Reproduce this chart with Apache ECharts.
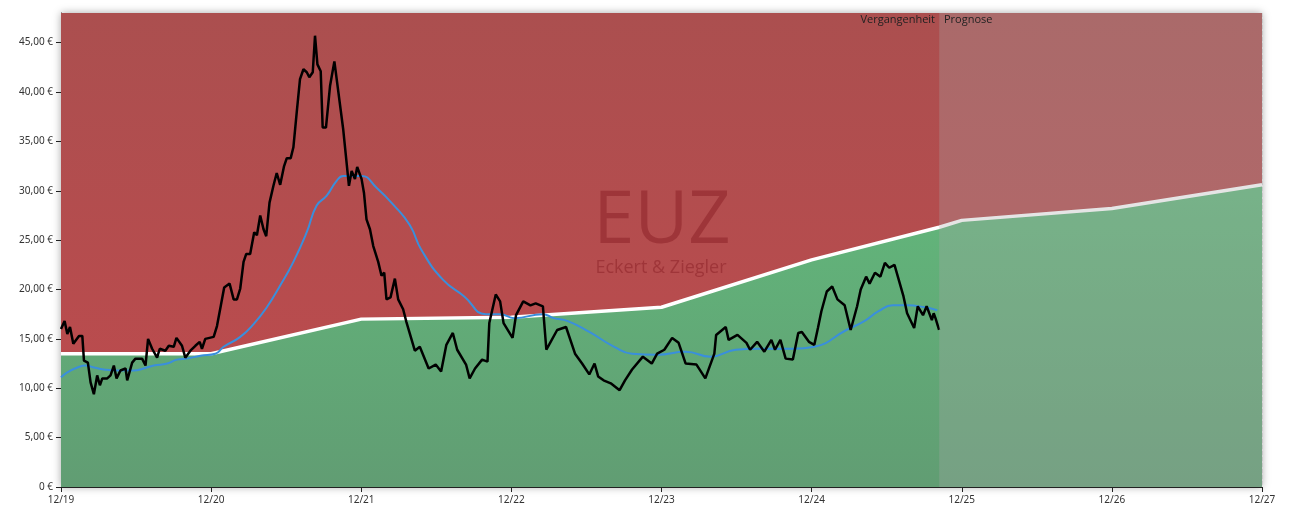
<!DOCTYPE html>
<html><head><meta charset="utf-8">
<script src="https://cdn.jsdelivr.net/npm/echarts@6/dist/echarts.min.js"></script>
<style>html,body{margin:0;padding:0;background:#fff}#c{width:1293px;height:511px}</style>
</head><body><div id="c"></div>
<script>
// x values: years since Dec 2019
const tickLabels = ['12/19','12/20','12/21','12/22','12/23','12/24','12/25','12/26','12/27'];
const priceT = [0,.024,.042,.060,.082,.120,.142,.153,.179,.197,.219,.241,.259,.275,.308,.330,.352,.370,.396,.430,.441,.474,.496,.540,.563,.580,.607,.640,.658,.695,.718,.751,.769,.806,.828,.862,.895,.924,.939,.961,1.017,1.039,1.065,1.087,1.123,1.150,1.172,1.194,1.216,1.234,1.260,1.287,1.305,1.327,1.349,1.367,1.389,1.415,1.437,1.460,1.486,1.504,1.530,1.548,1.570,1.592,1.615,1.637,1.654,1.677,1.692,1.708,1.730,1.743,1.765,1.792,1.821,1.880,1.918,1.936,1.958,1.973,2.002,2.018,2.035,2.058,2.080,2.113,2.135,2.153,2.168,2.195,2.224,2.246,2.279,2.301,2.328,2.357,2.390,
2.449,2.496,2.532,2.567,2.610,2.639,2.698,2.722,2.758,2.805,2.841,2.853,2.896,2.925,2.948,3.008,3.031,3.079,3.127,3.162,3.210,3.233,3.258,3.305,3.364,3.424,3.471,3.519,3.554,3.578,3.614,3.662,3.721,3.757,3.804,3.876,3.935,3.971,4.019,4.071,4.114,4.161,4.233,4.292,4.352,4.364,4.428,4.447,4.506,4.566,4.590,4.637,4.685,4.732,4.756,4.792,4.827,4.875,4.911,4.935,4.982,5.018,5.042,5.065,5.101,5.137,5.172,5.220,5.260,5.303,5.327,5.363,5.386,5.422,5.458,5.488,5.517,5.552,5.612,5.636,5.683,5.707,5.742,5.766,5.801,5.813,5.825,5.849];
const priceV = [16.0,16.8,15.5,16.2,14.5,15.3,15.3,12.8,12.6,10.6,9.4,11.3,10.3,11.0,11.0,11.3,12.3,11.0,11.8,12.0,10.8,12.6,13.0,13.0,12.3,15.0,14.0,13.1,14.0,13.8,14.3,14.2,15.1,14.3,13.1,13.8,14.3,14.7,14.0,15.0,15.2,16.3,18.4,20.2,20.6,19.0,19.0,20.1,22.8,23.6,23.6,25.8,25.5,27.5,26.1,25.4,28.8,30.5,31.8,30.6,32.5,33.3,33.3,34.4,37.9,41.3,42.3,42.0,41.5,42.0,45.7,42.8,42.1,36.4,36.4,40.6,43.1,36.2,30.5,32.0,31.2,32.4,31.2,29.8,27.1,26.1,24.4,22.8,21.4,21.7,19.0,19.2,21.1,19.0,18.0,16.7,15.3,13.8,14.2,
12.0,12.4,11.7,14.4,15.6,13.9,12.4,11.0,12.0,12.9,12.7,16.6,19.5,18.8,16.6,15.1,17.4,18.8,18.4,18.6,18.3,13.9,14.6,15.9,16.2,13.5,12.5,11.4,12.5,11.2,10.8,10.5,9.8,10.8,11.9,13.2,12.5,13.5,13.9,15.1,14.6,12.5,12.4,11.0,13.5,15.4,16.2,14.9,15.4,14.6,13.9,14.7,13.7,14.9,13.9,14.9,13.0,12.9,15.6,15.7,14.7,14.4,16.1,17.8,19.8,20.3,19.0,18.4,15.9,18.3,20.0,21.3,20.6,21.7,21.3,22.7,22.2,22.5,19.3,17.6,16.1,18.3,17.4,18.3,16.9,17.6,17.1,15.9];
const avgT = [0,.042,.109,.164,.219,.286,.374,.485,.551,.618,.707,.773,.840,.928,1.028,1.083,1.194,1.283,1.371,1.460,1.548,1.637,1.703,1.770,1.836,1.880,1.947,2.002,2.102,2.213,2.324,2.401,2.544,2.686,2.829,2.925,3.020,3.210,3.281,3.376,3.519,3.685,3.804,3.971,4.161,4.328,4.494,4.637,4.875,5.018,5.232,5.351,5.446,5.541,5.636,5.754,5.837];
const avgV = [11.1,11.6,12.1,12.3,12.1,11.9,11.8,11.8,12.0,12.3,12.5,12.9,13.0,13.3,13.5,14.2,15.2,16.5,18.2,20.4,22.8,25.8,28.5,29.5,31.0,31.5,31.5,31.5,30.3,28.6,26.5,24.0,21.0,19.3,17.5,17.5,17.1,17.5,17.1,16.8,15.7,14.2,13.5,13.4,13.7,13.2,13.9,14.0,14.0,14.2,15.9,16.8,17.8,18.4,18.4,18.2,17.9];
const fairT = [0,1,2,3,4,5,5.85,6,7,8];
const fairV = [13.5,13.5,17.0,17.2,18.2,23.0,26.3,27.0,28.2,30.6];
const splitT = 5.85;
const yMax = 48;

const zip=(a,b)=>a.map((x,i)=>[x,b[i]]);
const fair = zip(fairT,fairV);
const chart = echarts.init(document.getElementById('c'));
chart.setOption({
  animation:false,
  grid:{left:61,right:31,top:13,bottom:24},
  xAxis:{type:'value',min:0,max:8,interval:1,
    axisLine:{lineStyle:{color:'#222'}},axisTick:{show:true,lineStyle:{color:'#222'}},
    axisLabel:{formatter:v=>tickLabels[Math.round(v)],color:'#333',fontSize:10,fontFamily:'Noto Sans'},
    splitLine:{show:true,lineStyle:{color:'rgba(0,0,0,0.08)',type:'dashed'}}},
  yAxis:{type:'value',min:0,max:yMax,interval:5,
    axisLine:{show:true,lineStyle:{color:'#222'}},axisTick:{show:true,lineStyle:{color:'#222'}},
    axisLabel:{showMaxLabel:false,formatter:v=>v===0?'0 €':v.toFixed(2).replace('.',',')+' €',color:'#333',fontSize:10,fontFamily:'Noto Sans'},
    splitLine:{show:true,lineStyle:{color:'rgba(0,0,0,0.08)',type:'dashed'}}},
  graphic:[
    {type:'rect',z:-10,shape:{x:61,y:13,width:1201,height:474},style:{fill:'#fff',shadowBlur:8,shadowColor:'rgba(0,0,0,0.35)'}},
    {type:'text',z:5,x:662,y:222,style:{text:'EUZ',textAlign:'center',textVerticalAlign:'middle',font:'74px "Open Sans"',fill:'rgba(140,35,40,0.55)'}},
    {type:'text',z:5,x:661,y:268,style:{text:'Eckert & Ziegler',textAlign:'center',textVerticalAlign:'middle',font:'18px "Open Sans"',fill:'rgba(140,35,40,0.55)'}},
    {type:'text',z:20,right:1293-935,top:14,style:{text:'Vergangenheit',font:'11px "Open Sans"',fill:'#222'}},
    {type:'text',z:20,left:944,top:14,style:{text:'Prognose',font:'11px "Open Sans"',fill:'#222'}}
  ],
  series:[
    {type:'line',data:[],z:0,markArea:{silent:true,itemStyle:{color:new echarts.graphic.LinearGradient(0,0,0,1,[{offset:0,color:'#ab4f4f'},{offset:1,color:'#bf4a4d'}])},data:[[{xAxis:0,yAxis:yMax},{xAxis:8,yAxis:0}]]}},
    {type:'line',data:fair,symbol:'none',z:1,lineStyle:{width:0},
     areaStyle:{opacity:1,origin:'start',color:new echarts.graphic.LinearGradient(0,0,0,1,[{offset:0,color:'#62b77b'},{offset:1,color:'#619d73'}])}},
    {type:'line',data:fair,symbol:'none',z:3,lineStyle:{color:'#fff',width:3.5}},
    {type:'line',data:zip(avgT,avgV),symbol:'none',smooth:true,z:4,lineStyle:{color:'#3a8fdc',width:2}},
    {type:'line',data:zip(priceT,priceV),symbol:'none',z:5,lineStyle:{color:'#000',width:2.5}},
    {type:'line',data:[[splitT,yMax],[8,yMax]],symbol:'none',z:10,silent:true,lineStyle:{width:0},
     areaStyle:{opacity:1,origin:'start',color:'rgba(170,170,170,0.3)'}}
  ]
});
</script></body></html>
